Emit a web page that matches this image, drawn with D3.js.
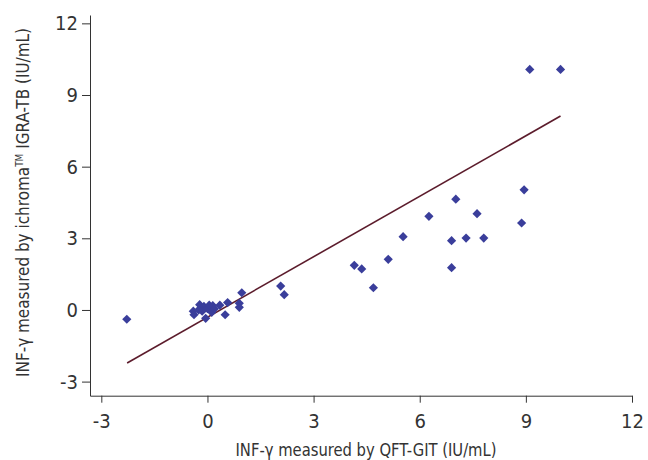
<!DOCTYPE html>
<html>
<head>
<meta charset="utf-8">
<script src="https://cdn.jsdelivr.net/npm/d3@7"></script>
<style>
  body { margin: 0; background: #fff; }
  svg text { font-family: "DejaVu Sans Condensed", "Liberation Sans Narrow", "Roboto", sans-serif; fill: #333; }
</style>
</head>
<body>
<svg id="chart" width="648" height="460"></svg>
<script>
// values (IU/mL)
const qft = [-2.28, 9.11, 9.98, 8.95, 8.88, 7.02, 6.26, 7.62, 5.53, 6.90, 7.31, 7.81, 6.90,
    0.97, 2.07, 2.17, 4.15, 4.36, 4.69, 5.11,
    -0.40, -0.38, -0.22, -0.10, -0.15, -0.05, 0.00, 0.05, 0.12, 0.15, 0.20, 0.35, 0.50, 0.57, 0.90, 0.90, -0.25];
const ichroma = [-0.39, 10.07, 10.07, 5.03, 3.64, 4.64, 3.92, 4.03, 3.07, 2.90, 3.01, 3.01, 1.77,
    0.72, 1.00, 0.64, 1.87, 1.72, 0.93, 2.12,
    -0.05, -0.20, 0.22, 0.15, -0.05, -0.35, 0.05, 0.20, -0.10, 0.18, 0.05, 0.20, -0.20, 0.31, 0.28, 0.11, 0.00];

// fitted line, read at its two ends
const fitX = [-2.27, 9.98];
const fitY = [-2.22, 8.12];

const xTicks = [-3, 0, 3, 6, 9, 12];
const yTicks = [-3, 0, 3, 6, 9, 12];

const svg = d3.select("svg#chart");

const x = d3.scaleLinear().domain([-3.32, 12]).range([90, 632]);
const y = d3.scaleLinear().domain([-3.59, 12.35]).range([395.7, 15]);

const fmt = d => String(d); // plain hyphen for negatives, as in the original

// axes
const xAxis = svg.append("g")
    .attr("transform", "translate(0,395.7)")
    .call(d3.axisBottom(x).tickValues(xTicks).tickFormat(fmt).tickSize(7).tickSizeOuter(0).tickPadding(11));

const yAxis = svg.append("g")
    .attr("transform", "translate(90,0)")
    .call(d3.axisLeft(y).tickValues(yTicks).tickFormat(fmt).tickSize(8).tickSizeOuter(0).tickPadding(4));

[xAxis, yAxis].forEach(g => {
    g.select(".domain").attr("stroke", "#333").attr("stroke-width", 1);
    g.selectAll(".tick line").attr("stroke", "#333");
    g.selectAll(".tick text").style("font-size", "20px").attr("fill", "#333");
});

// fit line
const line = d3.line().x(d => x(d[0])).y(d => y(d[1]));
svg.append("path")
    .datum(d3.zip(fitX, fitY))
    .attr("d", line)
    .attr("fill", "none")
    .attr("stroke", "#5c1c2c")
    .attr("stroke-width", 1.6);

// points
const diamond = "M0,-4.6L4.6,0L0,4.6L-4.6,0Z";
svg.append("g")
    .selectAll("path")
    .data(d3.zip(qft, ichroma))
    .enter().append("path")
    .attr("d", diamond)
    .attr("transform", d => `translate(${x(d[0])},${y(d[1])})`)
    .attr("fill", "#3a3e9b");

// axis titles
svg.append("text")
    .attr("x", 366)
    .attr("y", 456)
    .attr("text-anchor", "middle")
    .attr("textLength", 261)
    .attr("lengthAdjust", "spacingAndGlyphs")
    .style("font-size", "18px")
    .text("INF-γ measured by QFT-GIT (IU/mL)");

const yt = svg.append("text")
    .attr("transform", "translate(29,202.5) rotate(-90)")
    .attr("text-anchor", "middle")
    .attr("textLength", 349)
    .attr("lengthAdjust", "spacingAndGlyphs")
    .style("font-size", "17px");
yt.append("tspan").text("INF-γ measured by ichroma");
yt.append("tspan").attr("dy", -6).style("font-size", "10px").text("TM");
yt.append("tspan").attr("dy", 6).text(" IGRA-TB (IU/mL)");
</script>
</body>
</html>
